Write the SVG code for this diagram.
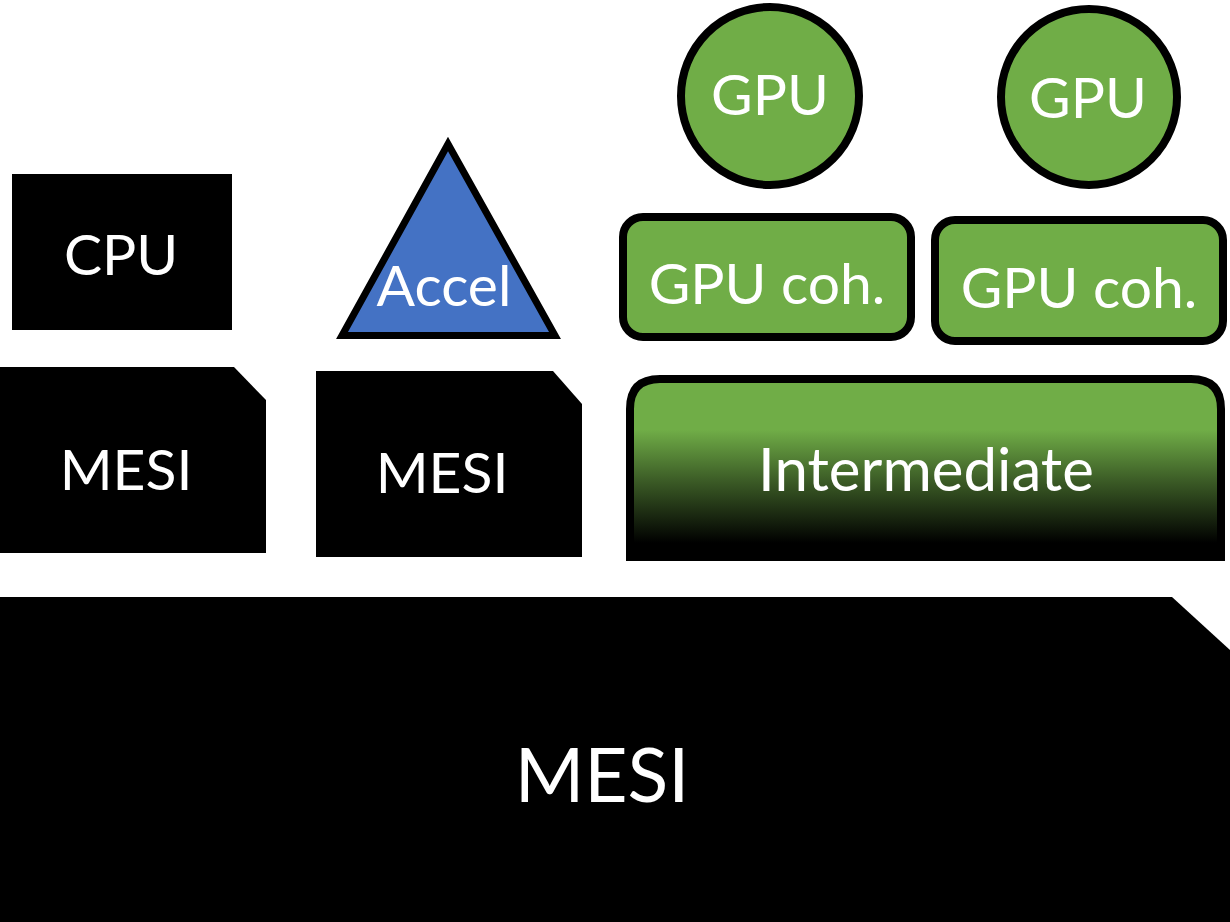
<svg xmlns="http://www.w3.org/2000/svg" width="1230" height="922" viewBox="0 0 1230 922">
<defs>
<linearGradient id="gInter" x1="0" y1="0" x2="0" y2="1">
<stop offset="0" stop-color="#70AD47"/>
<stop offset="0.28" stop-color="#70AD47"/>
<stop offset="0.55" stop-color="#3d5e27"/>
<stop offset="0.9" stop-color="#000000"/>
<stop offset="1" stop-color="#000000"/>
</linearGradient>
<style>
text{font-family:Lato,"Liberation Sans",sans-serif;fill:#fff;text-anchor:middle}
.s{font-size:57px}
.m{font-size:60px}
.b{font-size:75px}
.blk{fill:#000}
.grn{fill:#70AD47;stroke:#000;stroke-width:8}
</style>
</defs>
<rect width="1230" height="922" fill="#fff"/>
<g id="cpu"><rect class="blk" x="12" y="174" width="220" height="156"/><text class="s" x="121" y="275">CPU</text></g>
<g id="mesi1"><path class="blk" d="M0,367 H234 L266,400 V553 H0 Z"/><text class="s" x="126" y="490">MESI</text></g>
<g id="accel"><path d="M448,144 L555,335.5 H342 Z" fill="#4472C4" stroke="#000" stroke-width="7"/><text class="s" x="444" y="306">Accel</text></g>
<g id="mesi2"><path class="blk" d="M316,371 H553 L582,404 V557 H316 Z"/><text class="s" x="442" y="493">MESI</text></g>
<g id="gpu1"><circle class="grn" cx="770" cy="96" r="89"/><text class="s" x="770" y="115">GPU</text></g>
<g id="gpu2"><circle class="grn" cx="1089" cy="97" r="88"/><text class="s" x="1088" y="118">GPU</text></g>
<g id="gpucoh1"><rect class="grn" x="623" y="217" width="288" height="120" rx="20"/><text class="s" x="767" y="304">GPU coh.</text></g>
<g id="gpucoh2"><rect class="grn" x="935" y="220" width="288" height="121" rx="20"/><text class="s" x="1079" y="308">GPU coh.</text></g>
<g id="intermediate"><path d="M630,561 V409 Q630,379 660,379 H1191 Q1221,379 1221,409 V561" fill="url(#gInter)" stroke="#000" stroke-width="8"/><text class="m" x="926" y="491">Intermediate</text></g>
<g id="mesi3"><path class="blk" d="M0,597 H1172 L1230,650 V922 H0 Z"/><text class="b" x="602" y="802">MESI</text></g>
<g id="connectors"></g>
</svg>
